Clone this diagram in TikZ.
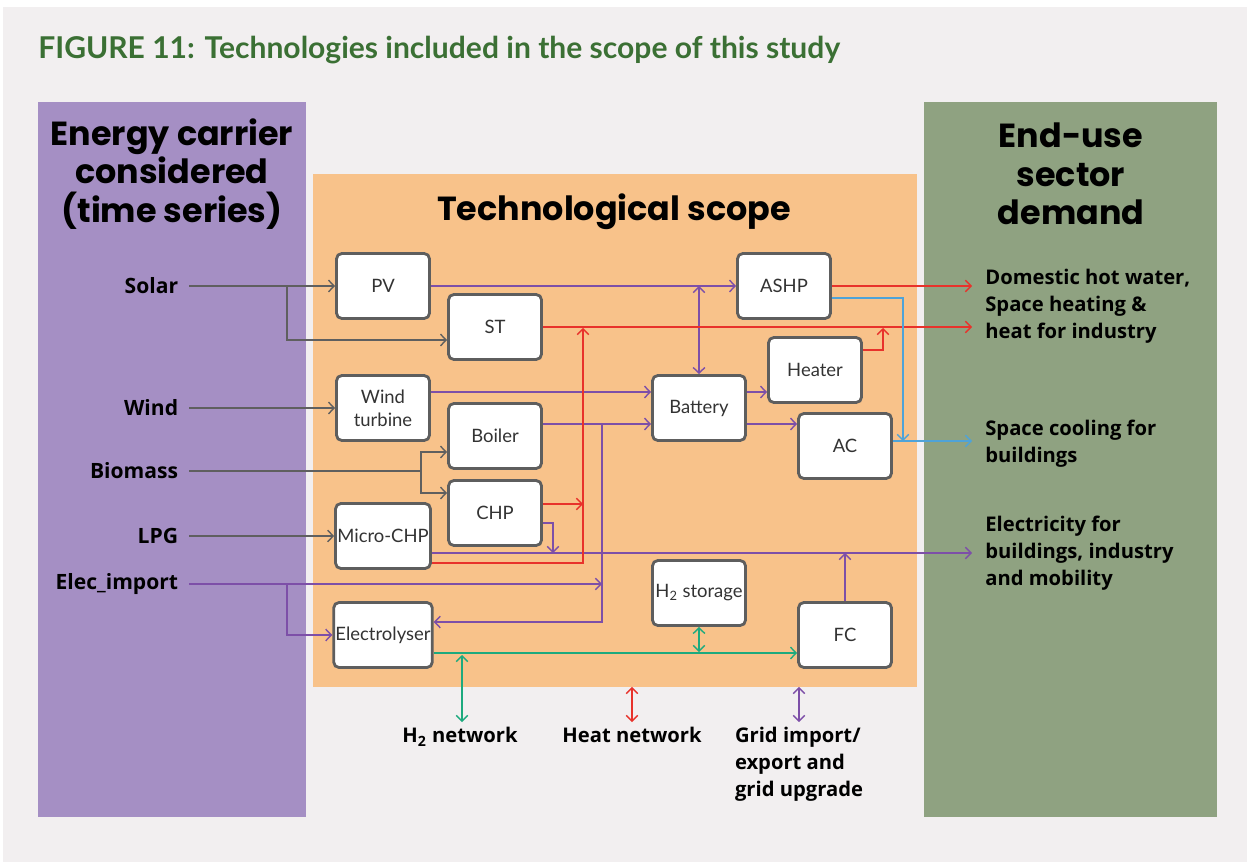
\documentclass[tikz,border=0pt]{standalone}
\usepackage{fontspec}
\setmainfont{Lato}
\newfontfamily\headfont{Poppins}
\newfontfamily\labelfont{Open Sans}
\usetikzlibrary{arrows.meta}
\usetikzlibrary{positioning}

\definecolor{bggrey}{HTML}{F2EFF0}
\definecolor{carrierpurple}{HTML}{A58FC4}
\definecolor{scopeorange}{HTML}{F8C28A}
\definecolor{demandgreen}{HTML}{8FA281}
\definecolor{titlegreen}{HTML}{3B7034}
\definecolor{boxgrey}{HTML}{5E5E5E}
\definecolor{fuelgrey}{HTML}{5F5F5F}
\definecolor{elecpurple}{HTML}{7D4FA8}
\definecolor{heatred}{HTML}{E8322B}
\definecolor{coolblue}{HTML}{4FA3D8}
\definecolor{hydrogreen}{HTML}{1DAA7E}

\begin{document}
\begin{tikzpicture}[line cap=butt,line join=miter,>={Straight Barb[length=3.2pt,width=6.6pt]},x=0.02cm,y=-0.02cm,
  panel/.style={inner sep=0pt,outer sep=0pt},
  tech/.style={draw=boxgrey,line width=1.6pt,fill=white,rounded corners=3pt,minimum width=1.86cm,minimum height=1.3cm,inner sep=1pt,align=center,text=black!80,font=\fontsize{10.5}{13}\selectfont},
  head/.style={align=center,font=\headfont\fontsize{19}{22}\selectfont\bfseries},
  carrier/.style={anchor=east,inner xsep=6pt,font=\labelfont\fontsize{12}{14}\selectfont\bfseries},
  demand/.style={anchor=west,inner sep=0pt,align=left,font=\labelfont\fontsize{11.5}{15.3}\selectfont\bfseries},
  network/.style={anchor=north,inner sep=3pt,align=left,font=\labelfont\fontsize{11.5}{15.3}\selectfont\bfseries},
  flow/.style={line width=0.8pt},
  fuel/.style={flow,color=fuelgrey},
  elec/.style={flow,color=elecpurple},
  heat/.style={flow,color=heatred},
  cool/.style={flow,color=coolblue},
  hydro/.style={flow,color=hydrogreen}]
\useasboundingbox (0,0) rectangle (1247,862);
\fill[white] (0,0) rectangle (1247,862);
\fill[bggrey] (3,7) rectangle (1247,862);
\node[anchor=west,inner sep=0pt,text=titlegreen,font=\fontsize{17.1}{20}\selectfont\bfseries] (title) at (38,50) {FIGURE 11: Technologies included in the scope of this study};
% panels
\node[panel,fill=carrierpurple,minimum width=5.36cm,minimum height=14.3cm] (carrierpanel) at (172,459.5) {};
\node[panel,fill=scopeorange,minimum width=12.08cm,minimum height=10.26cm] (scope) at (615,430.5) {};
\node[panel,fill=demandgreen,minimum width=5.86cm,minimum height=14.3cm] (demandpanel) at (1070.5,459.5) {};
\node[head] (carrierhead) at (172,174) {Energy carrier\\considered\\(time series)};
\node[head] (scopehead) at (614,212) {Technological scope};
\node[head] (demandhead) at (1071,174) {End-use\\sector\\demand};
% carriers
\foreach \n/\t/\y in {solar/Solar/286,wind/Wind/408,biomass/Biomass/471,lpg/LPG/536,elec/Elec\_import/584}
\node[carrier] (\n) at (189,\y) {\t};
% technologies
\foreach \n/\t/\x/\y in {pv/PV/383/286,st/ST/495/327,ashp/ASHP/784/286,heater/Heater/815/370,wt/{Wind\\turbine}/383/408,boiler/Boiler/495/436,battery/Battery/699/408,ac/AC/845/446,chp/CHP/495/513,mchp/Micro-CHP/383/536,h2s/{H\textsubscript{2} storage}/699/593,ely/Electrolyser/383/635,fc/FC/845/635}
\node[tech] (\n) at (\x,\y) {\t};
% demand
\node[demand] (heatout) at (985,306) {Domestic hot water,\\Space heating \&\\heat for industry};
\node[demand] (coolout) at (985,444) {Space cooling for\\buildings};
\node[demand] (elecout) at (985,553) {Electricity for\\buildings, industry\\and mobility};
\node[network] (h2net) at (460,722) {H\textsubscript{2} network};
\node[network] (heatnet) at (632,722) {Heat network};
\node[network] (gridnet) at (799,722) {Grid import/\\export and\\grid upgrade};
\coordinate (outheat1) at (972,286);
\coordinate (outheat2) at (972,327);
\coordinate (outcool) at (972,441);
\coordinate (outelec) at (972,553);
% fuel
\coordinate (jsolar) at (287,286);
\draw[fuel,->] (solar.east) -- (pv.west);
\draw[fuel,->] (jsolar) |- (st.west |- 0,340);
\draw[fuel,->] (wind.east) -- (wt.west);
\draw[fuel] (biomass.east) -- (421,471) coordinate (jbio);
\draw[fuel,->] (jbio) |- (boiler.west |- 0,452);
\draw[fuel,->] (jbio) |- (chp.west |- 0,493);
\draw[fuel,->] (lpg.east) -- (mchp.west);
% electricity
\coordinate (jimport) at (287,584);
\coordinate (jbus) at (602,424);
\coordinate (jchp) at (553,553);
\draw[elec,->] (elec.east) -- (jbus |- elec.east);
\draw[elec,->] (jimport) |- (ely.west);
\draw[elec,->] (pv.east) -- (ashp.west);
\draw[elec,<->] (battery.north |- pv.east) -- (battery.north);
\draw[elec,->] (wt.east |- 0,392) -- (battery.west |- 0,392);
\draw[elec,->] (boiler.east |- 0,424) -- (battery.west |- 0,424);
\draw[elec,->] (jbus) |- (ely.east |- 0,622);
\draw[elec,->] (battery.east |- 0,392) -- (heater.west |- 0,392);
\draw[elec,->] (battery.east |- 0,424) -- (ac.west |- 0,424);
\draw[elec,->] (chp.east |- 0,523) -| (jchp);
\draw[elec,->] (mchp.east |- 0,553) -- (outelec);
\draw[elec,->] (fc.north) -- (fc.north |- outelec);
\draw[elec,<->] (gridnet.north |- scope.south) -- (gridnet.north);
% heat
\coordinate (jheat) at (583,328);
\coordinate (jheater) at (883,328);
\draw[heat,->] (ashp.east) -- (outheat1);
\draw[heat,->] (st.east) -- (outheat2);
\draw[heat,->] (mchp.east |- 0,563) -| (jheat);
\draw[heat,->] (chp.east |- 0,504) -- (jheat |- 0,504);
\draw[heat,->] (heater.east |- 0,350) -| (jheater);
\draw[heat,<->] (heatnet.north |- scope.south) -- (heatnet.north);
% cooling
\coordinate (jcool) at (903,441);
\draw[cool,->] (ashp.east |- 0,298) -| (jcool);
\draw[cool,->] (ac.east |- 0,441) -- (outcool);
% hydrogen
\coordinate (jh2) at (462,655);
\draw[hydro,->] (ely.east |- 0,653) -- (fc.west |- 0,653);
\draw[hydro,<->] (h2s.south) -- (h2s.south |- 0,652);
\draw[hydro,<->] (jh2) -- (jh2 |- h2net.north);
\end{tikzpicture}
\end{document}
